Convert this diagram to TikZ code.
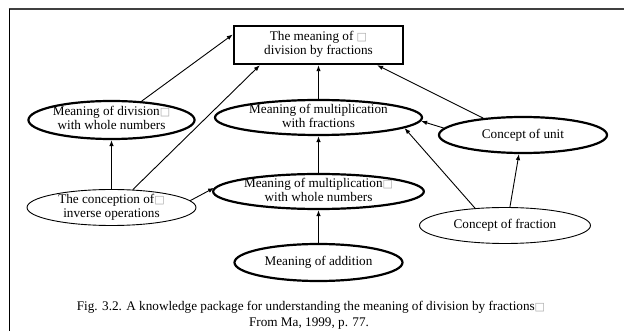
\documentclass[tikz,border=0pt]{standalone}
\usepackage{fontspec}
\setmainfont{Liberation Serif}
\newfontfamily\symfont{DejaVu Sans}
\usetikzlibrary{shapes.geometric,arrows.meta}
\newcommand{\gbox}{{\symfont\fontsize{11}{11}\selectfont\color{black!35}□}}
\newcommand{\twol}[2]{\smash{\raisebox{-3.2pt}{\begin{tabular}[c]{@{}c@{}}#1\\#2\end{tabular}}}}
\tikzset{
  txt/.style={font=\fontsize{13.2}{14}\selectfont, inner sep=0pt},
  ellthick/.style={txt, ellipse, draw, line width=2.2pt},
  ellthin/.style={txt, ellipse, draw, line width=0.9pt},
  topbox/.style={txt, rectangle, draw, line width=2.4pt},
  arr/.style={line width=0.9pt, -{Latex[length=6pt,width=4.5pt]}},
}
\begin{document}
\begin{tikzpicture}[x=1pt,y=1pt]
\useasboundingbox (0,0) rectangle (624,-331);
% frame
\draw[black!75, line width=1.6pt] (8.5,-9) -- (624,-9);
\draw[black, line width=1pt] (9,-9) -- (9,-331);
% nodes
\node[topbox, minimum width=169pt, minimum height=38pt] (box) at (318.5,-45) {\twol{The meaning of \gbox}{division by fractions}};
\node[ellthick, minimum width=166pt, minimum height=38pt] (div) at (111.5,-120) {\twol{Meaning of division\gbox}{with whole numbers}};
\node[ellthick, minimum width=207pt, minimum height=35pt] (mf) at (318.5,-117.5) {\twol{Meaning of multiplication}{with fractions}};
\node[ellthick, minimum width=168pt, minimum height=36pt] (unit) at (523,-135) {Concept of unit};
\node[ellthin, minimum width=169pt, minimum height=36pt] (conc) at (111.5,-207.5) {\twol{The conception of\gbox}{inverse operations}};
\node[ellthick, minimum width=208pt, minimum height=35pt] (mw) at (318.5,-191.5) {\twol{Meaning of multiplication\gbox}{with whole numbers}};
\node[ellthin, minimum width=171pt, minimum height=36pt] (frac) at (505,-225.5) {Concept of fraction};
\node[ellthick, minimum width=168pt, minimum height=37pt] (add) at (318.5,-262.5) {Meaning of addition};
% caption
\node[txt] (cap1) at (311,-307) {Fig. 3.2. A knowledge package for understanding the meaning of division by fractions\gbox};
\node[txt] (cap2) at (309,-324) {From Ma, 1999, p. 77.};
% connectors
\draw[arr] (div.32) -- (box.173);
\draw[arr] (conc.40) -- (box.199);
\draw[arr] (conc.north) -- (div.south);
\draw[arr] (conc.5) -- (mw.178);
\draw[arr] (mf.north) -- (box.south);
\draw[arr] (mw.north) -- (mf.south);
\draw[arr] (add.north) -- (mw.south);
\draw[arr] (unit.157) -- (box.341);
\draw[arr] (unit.175) -- (mf.358);
\draw[arr] (frac.150) -- (mf.-7);
\draw[arr] (frac.75) -- (unit.258);
\end{tikzpicture}
\end{document}
